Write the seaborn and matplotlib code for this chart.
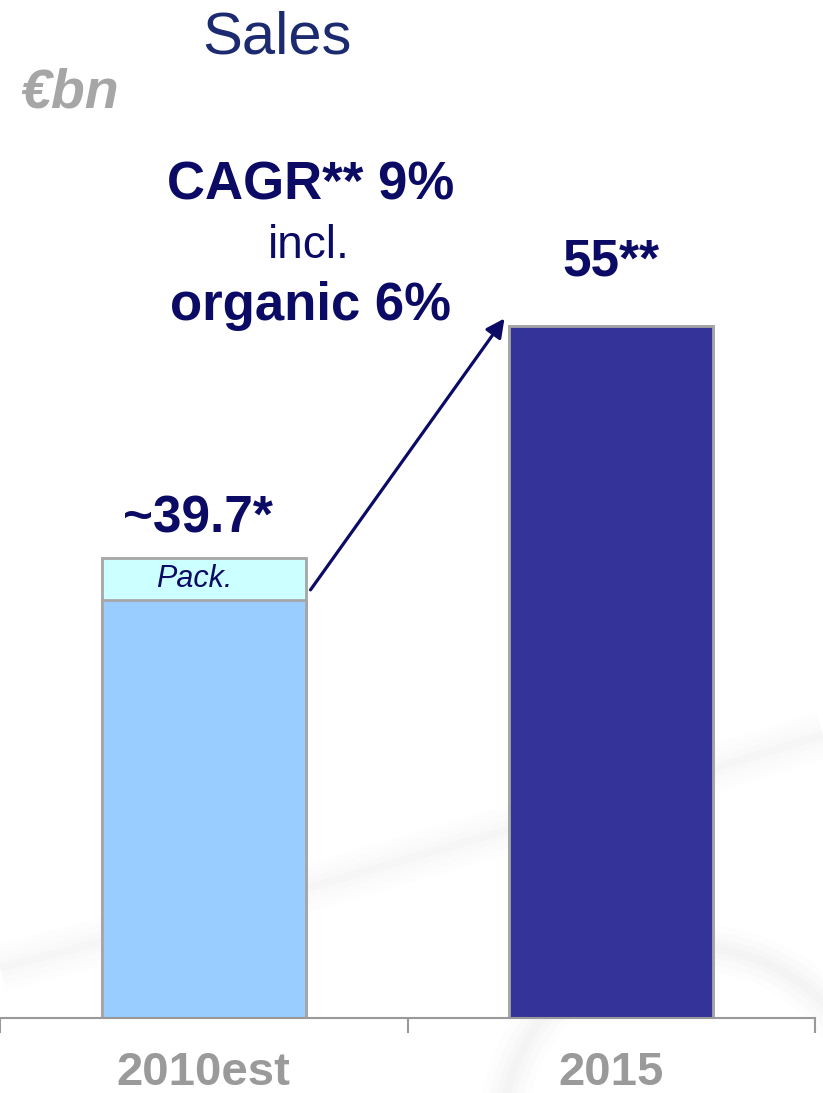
import matplotlib
matplotlib.use("Agg")
import matplotlib.pyplot as plt
from matplotlib.lines import Line2D
from matplotlib.patches import Arc
import seaborn as sns
import pandas as pd

# Sales in EUR bn
categories = ["2010est", "2015"]
core_sales = [36.9, 55.0]
packaging = [2.8, 0.0]
value_labels = ["~39.7*", "55**"]

NAVY = "#0b0b66"
TITLE_NAVY = "#1c2b70"
GREY_TXT = "#9a9a9a"
EDGE = "#a6a6a6"

totals = [c + p for c, p in zip(core_sales, packaging)]
df_total = pd.DataFrame({"year": categories, "value": totals})
df_core = pd.DataFrame({"year": categories, "value": core_sales})

sns.set_theme(style="white")
plt.rcParams["font.family"] = ["Liberation Sans", "DejaVu Sans"]

W, H = 823, 1093
fig = plt.figure(figsize=(W / 100, H / 100), dpi=100)


def fx(px):
    return px / W


def fy(py):
    return 1 - py / H


# soft grey swooshes in the slide background
for lw, a in [(34, 0.012), (24, 0.014), (14, 0.016), (6, 0.018)]:
    fig.add_artist(Line2D([fx(0), fx(300), fx(560), fx(823)],
                          [fy(968), fy(890), fy(815), fy(735)],
                          transform=fig.transFigure, color="#808080",
                          lw=lw, alpha=a, solid_capstyle="butt", zorder=0))
    fig.add_artist(Arc((fx(690), fy(1135)), 2 * 188 / W, 2 * 188 / H,
                       theta1=20, theta2=180, transform=fig.transFigure,
                       color="#808080", lw=lw, alpha=a * 1.3, zorder=0))

ax = fig.add_axes([0, (H - 1018) / H, 815 / W, 1018 / H])
ax.set_zorder(2)
ax.patch.set_alpha(0)

bar_w = 0.5
# upper (packaging) layer first, core layer on top of it
sns.barplot(data=df_total, x="year", y="value", hue="year",
            palette=["#ccffff", "#333399"], width=bar_w, legend=False,
            edgecolor=EDGE, linewidth=2, ax=ax, saturation=1)
sns.barplot(data=df_core, x="year", y="value", hue="year",
            palette=["#99ccff", "#333399"], width=bar_w, legend=False,
            edgecolor=EDGE, linewidth=2, ax=ax, saturation=1)

ax.set_xlim(-0.5, 1.5)
ax.set_ylim(9.364, 76.5)
ax.set_xlabel("")
ax.set_ylabel("")
ax.set_yticks([])
for side in ["left", "right", "top"]:
    ax.spines[side].set_visible(False)
ax.spines["bottom"].set_color("#999999")
ax.spines["bottom"].set_linewidth(1.5)
ax.set_xticks([0, 1])
ax.set_xticklabels([])
ax.tick_params(axis="x", which="major", length=0)
ax.set_xticks([-0.5, 0.5, 1.5], minor=True)
ax.tick_params(axis="x", which="minor", length=11, width=1.5,
               color="#999999", direction="out", bottom=True)

# category labels below the axis
for i, cat in enumerate(categories):
    ax.annotate(cat, xy=(i, 9.364), xycoords="data", xytext=(0, -48),
                textcoords="offset points", ha="center", va="baseline",
                fontsize=34, fontweight="bold", color=GREY_TXT,
                annotation_clip=False)

# value labels above the bars
ax.annotate(value_labels[0], xy=(0, totals[0]), xytext=(-4.5, 18.5),
            textcoords="offset points", ha="center", va="baseline",
            fontsize=37, fontweight="bold", color=NAVY)
ax.annotate(value_labels[1], xy=(1, totals[1]), xytext=(0, 36.5),
            textcoords="offset points", ha="center", va="baseline",
            fontsize=37, fontweight="bold", color=NAVY)

# packaging segment label
ax.annotate("Pack.", xy=(0, core_sales[0] + packaging[0] / 2), xytext=(-6.5, 0),
            textcoords="offset points", ha="center", va="center",
            fontsize=22, fontstyle="italic", color=NAVY)

# growth arrow from the 2010 bar to the 2015 bar
gap = 0.012
ax.annotate("", xy=(1 - bar_w / 2 - gap, totals[1] + 0.5),
            xytext=(bar_w / 2 + gap, core_sales[0] + packaging[0] * 0.25),
            arrowprops=dict(arrowstyle="-|>", lw=2.3, color=NAVY,
                            mutation_scale=28, shrinkA=0, shrinkB=0))

# headings and growth annotation
fig.text(fx(277), fy(53), "Sales", ha="center", va="baseline",
         fontsize=43, color=TITLE_NAVY)
fig.text(fx(20), fy(107), "€bn", ha="left", va="baseline",
         fontsize=40, fontweight="bold", fontstyle="italic", color="#a6a6a6")
fig.text(fx(311), fy(200), "CAGR** 9%", ha="center", va="baseline",
         fontsize=38, fontweight="bold", color=NAVY)
fig.text(fx(309), fy(258), "incl.", ha="center", va="baseline",
         fontsize=33, color=NAVY)
fig.text(fx(310), fy(320), "organic 6%", ha="center", va="baseline",
         fontsize=38, fontweight="bold", color=NAVY)

fig.savefig("out.png", dpi=100, facecolor="white")
